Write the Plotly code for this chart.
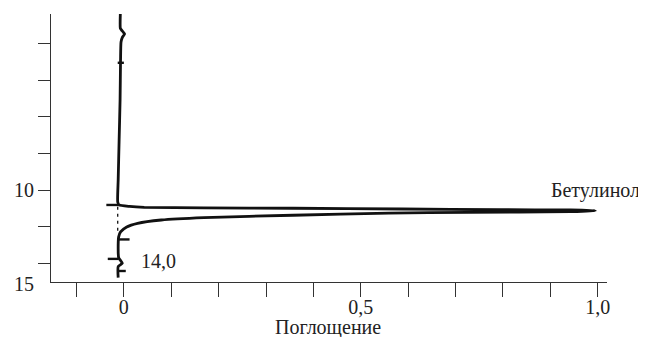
import plotly.graph_objects as go

# Main IR curve: absorbance (x) vs wavelength (y, reversed axis)
curve_absorb = [-0.0075, -0.0075, -0.0048, 0.0015, -0.003, -0.006, -0.007, -0.008, -0.010, -0.012, -0.013,
                -0.010, 0.012, 0.043, 0.169, 0.357, 0.587, 0.796, 0.943, 0.995,
                0.943, 0.727, 0.559, 0.357, 0.169, 0.079, 0.029, 0.006, -0.007, -0.011, -0.012,
                -0.011, -0.0033, -0.012, -0.012]
curve_wave = [0.39, 1.16, 1.27, 1.48, 1.65, 1.92, 2.9, 5.08, 7.26, 9.44, 10.64,
              10.80, 10.88, 10.93, 10.96, 10.98, 11.02, 11.06, 11.07, 11.11,
              11.16, 11.20, 11.25, 11.36, 11.49, 11.62, 11.80, 12.0, 12.27, 12.54, 12.98,
              13.67, 13.98, 14.16, 14.76]

# Short pen marks along the baseline (pairs of endpoints)
mark_absorb = [[-0.037, -0.011], [-0.011, 0.012], [-0.034, -0.011], [-0.011, 0.004], [-0.013, 0.0]]
mark_wave = [[10.80, 10.80], [12.68, 12.68], [13.74, 13.74], [14.40, 14.40], [3.05, 3.05]]

# Dashed baseline under the band
base_absorb = [-0.013, -0.013]
base_wave = [10.9, 12.27]

x_tickvals = [-0.1, 0.0, 0.1, 0.2, 0.3, 0.4, 0.5, 0.6, 0.7, 0.8, 0.9, 1.0]
x_ticktext = ["", "0", "", "", "", "", "0,5", "", "", "", "", "1,0"]
y_tickvals = [2, 4, 6, 8, 10, 12, 14]
y_ticktext = ["", "", "", "", "10", "", ""]

FONT = "Liberation Serif, Times New Roman, DejaVu Serif, serif"
INK = "#111111"
TXT = "#222222"
FS = 20

fig = go.Figure()
fig.add_trace(go.Scatter(x=curve_absorb, y=curve_wave, mode="lines",
                         line=dict(color=INK, width=2.8, shape="spline", smoothing=0.5),
                         showlegend=False, hoverinfo="skip"))
for mx, my in zip(mark_absorb, mark_wave):
    fig.add_trace(go.Scatter(x=mx, y=my, mode="lines", line=dict(color=INK, width=2.4),
                             showlegend=False, hoverinfo="skip"))
fig.add_trace(go.Scatter(x=base_absorb, y=base_wave, mode="lines",
                         line=dict(color=INK, width=1.3, dash="3px,4px"),
                         showlegend=False, hoverinfo="skip"))

# the page body has an 8px default margin, so the figure is 8px smaller
fig.update_layout(
    width=638, height=329,
    margin=dict(l=38, r=39, t=6, b=55),
    paper_bgcolor="white", plot_bgcolor="white",
    font=dict(family=FONT, size=FS, color=TXT),
    xaxis=dict(range=[-0.1538, 1.0197], tickvals=x_tickvals, ticktext=x_ticktext,
               ticks="outside", ticklen=14, tickcolor="#333", tickwidth=1,
               ticklabelstandoff=-7,
               showline=True, linecolor="#333", linewidth=1, showgrid=False, zeroline=False,
               tickfont=dict(family=FONT, size=FS, color=TXT)),
    yaxis=dict(range=[15, 0.39], tickvals=y_tickvals, ticktext=y_ticktext,
               ticks="outside", ticklen=12, tickcolor="#333", tickwidth=1,
               showline=True, linecolor="#333", linewidth=1, showgrid=False, zeroline=False,
               tickfont=dict(family=FONT, size=FS, color=TXT)),
    annotations=[
        dict(text="15", xref="paper", yref="y", x=0, y=15, xanchor="right", yanchor="middle",
             xshift=-15, yshift=-2, showarrow=False, font=dict(family=FONT, size=FS, color=TXT)),
        dict(text="Поглощение", xref="paper", yref="paper", x=0.498, y=0, xanchor="center",
             yanchor="middle", yshift=-45, borderpad=0, showarrow=False,
             font=dict(family=FONT, size=FS, color=TXT)),
        dict(text="Бетулинол", xref="x", yref="y", x=0.898, y=10.0, xanchor="left",
             yanchor="middle", showarrow=False, font=dict(family=FONT, size=FS, color=TXT)),
        dict(text="14,0", xref="x", yref="y", x=0.031, y=13.86, xanchor="left",
             yanchor="middle", showarrow=False, font=dict(family=FONT, size=FS, color=TXT)),
    ],
)

fig.write_html("out.html")
